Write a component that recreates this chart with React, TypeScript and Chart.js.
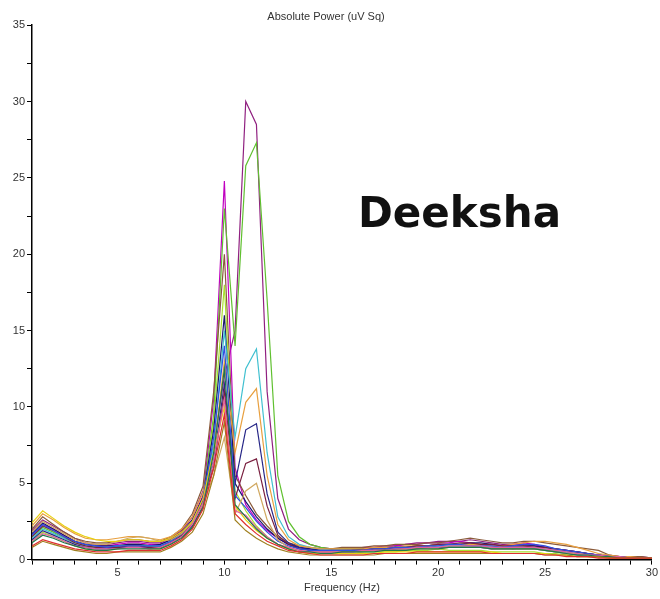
import React, { useEffect, useRef } from "react";
import { Chart, registerables } from "chart.js";

Chart.register(...registerables);

// Frequency bins (Hz), 0.5 Hz resolution from 1 to 30
const FREQS: number[] = [
  1.0, 1.5, 2.0, 2.5, 3.0, 3.5, 4.0, 4.5, 5.0, 5.5,
  6.0, 6.5, 7.0, 7.5, 8.0, 8.5, 9.0, 9.5, 10.0, 10.5,
  11.0, 11.5, 12.0, 12.5, 13.0, 13.5, 14.0, 14.5, 15.0, 15.5,
  16.0, 16.5, 17.0, 17.5, 18.0, 18.5, 19.0, 19.5, 20.0, 20.5,
  21.0, 21.5, 22.0, 22.5, 23.0, 23.5, 24.0, 24.5, 25.0, 25.5,
  26.0, 26.5, 27.0, 27.5, 28.0, 28.5, 29.0, 29.5, 30.0,
];

const magenta = [
  1.6, 2.3, 2.0, 1.6, 1.2, 1.0, 0.9, 0.9, 1.0, 1.1,
  1.1, 1.0, 1.0, 1.3, 1.8, 2.6, 4.2, 10.5, 24.8, 6.0,
  3.6, 2.6, 1.9, 1.4, 1.0, 0.8, 0.7, 0.6, 0.6, 0.6,
  0.7, 0.7, 0.8, 0.8, 0.9, 1.0, 1.0, 1.1, 1.1, 1.1,
  1.2, 1.1, 1.0, 0.9, 0.9, 1.0, 1.1, 1.0, 0.8, 0.6,
  0.5, 0.4, 0.3, 0.3, 0.2, 0.2, 0.2, 0.1, 0.1,
];
const purpleBig = [
  1.9, 2.6, 2.2, 1.8, 1.4, 1.1, 1.0, 1.0, 1.1, 1.2,
  1.2, 1.1, 1.1, 1.4, 1.9, 2.8, 4.5, 7.5, 12.0, 15.0,
  30.0, 28.5, 11.0, 4.0, 2.0, 1.3, 1.0, 0.8, 0.7, 0.7,
  0.7, 0.8, 0.8, 0.9, 0.9, 1.0, 1.1, 1.1, 1.2, 1.2,
  1.2, 1.3, 1.2, 1.1, 1.0, 1.0, 1.0, 0.9, 0.8, 0.7,
  0.6, 0.5, 0.4, 0.3, 0.3, 0.2, 0.2, 0.2, 0.1,
];
const green = [
  1.5, 2.1, 1.8, 1.4, 1.1, 0.9, 0.8, 0.8, 0.9, 1.0,
  1.0, 0.9, 0.9, 1.2, 1.7, 2.5, 4.0, 9.5, 23.0, 14.0,
  25.8, 27.3, 17.0, 5.5, 2.5, 1.5, 1.0, 0.8, 0.7, 0.7,
  0.7, 0.7, 0.7, 0.8, 0.8, 0.8, 0.9, 0.9, 1.0, 0.9,
  0.9, 0.9, 0.8, 0.8, 0.8, 0.7, 0.8, 0.8, 0.7, 0.6,
  0.5, 0.4, 0.3, 0.3, 0.2, 0.2, 0.2, 0.1, 0.1,
];
const brown = [
  2.0, 2.8, 2.3, 1.8, 1.4, 1.2, 1.1, 1.1, 1.2, 1.3,
  1.3, 1.2, 1.2, 1.5, 2.0, 3.0, 4.8, 11.0, 20.0, 5.5,
  4.2, 3.0, 2.2, 1.5, 1.1, 0.9, 0.8, 0.7, 0.7, 0.8,
  0.8, 0.8, 0.9, 0.9, 1.0, 1.0, 1.0, 1.1, 1.1, 1.2,
  1.3, 1.4, 1.3, 1.2, 1.1, 1.1, 1.2, 1.2, 1.1, 1.0,
  0.9, 0.8, 0.7, 0.6, 0.3, 0.2, 0.2, 0.2, 0.1,
];
const lime = [
  1.2, 1.8, 1.5, 1.2, 0.9, 0.7, 0.6, 0.6, 0.7, 0.8,
  0.8, 0.7, 0.7, 1.0, 1.5, 2.2, 3.6, 9.0, 18.0, 4.5,
  3.2, 2.2, 1.5, 1.0, 0.7, 0.5, 0.4, 0.4, 0.4, 0.4,
  0.4, 0.5, 0.5, 0.5, 0.5, 0.6, 0.6, 0.6, 0.7, 0.6,
  0.6, 0.6, 0.6, 0.5, 0.5, 0.5, 0.5, 0.5, 0.4, 0.4,
  0.3, 0.3, 0.2, 0.2, 0.2, 0.1, 0.1, 0.1, 0.1,
];
const navyPeak = [
  1.7, 2.4, 2.0, 1.6, 1.2, 1.0, 0.9, 0.9, 0.9, 1.0,
  1.0, 0.9, 1.0, 1.3, 1.8, 2.6, 4.1, 8.5, 16.0, 5.0,
  3.8, 2.8, 2.0, 1.4, 1.0, 0.8, 0.7, 0.6, 0.6, 0.6,
  0.6, 0.7, 0.7, 0.7, 0.8, 0.8, 0.9, 0.9, 1.0, 1.0,
  1.0, 1.1, 1.1, 1.0, 0.9, 0.9, 0.9, 0.9, 0.8, 0.7,
  0.6, 0.5, 0.4, 0.3, 0.2, 0.2, 0.1, 0.1, 0.1,
];
const cyan = [
  1.4, 2.0, 1.7, 1.4, 1.1, 0.9, 0.8, 0.8, 0.9, 0.9,
  0.9, 0.9, 0.9, 1.2, 1.6, 2.4, 3.8, 7.5, 15.0, 8.0,
  12.5, 13.8, 7.0, 2.8, 1.5, 1.0, 0.8, 0.7, 0.6, 0.6,
  0.6, 0.6, 0.7, 0.7, 0.7, 0.8, 0.8, 0.8, 0.9, 0.9,
  0.9, 0.9, 0.9, 0.8, 0.8, 0.8, 0.8, 0.7, 0.7, 0.6,
  0.5, 0.4, 0.3, 0.3, 0.2, 0.2, 0.1, 0.1, 0.1,
];
const orange = [
  2.2, 3.0, 2.6, 2.1, 1.7, 1.4, 1.3, 1.3, 1.4, 1.5,
  1.5, 1.4, 1.3, 1.5, 2.0, 2.8, 4.4, 7.0, 13.0, 7.0,
  10.3, 11.2, 5.5, 2.3, 1.3, 0.9, 0.8, 0.7, 0.7, 0.7,
  0.7, 0.7, 0.8, 0.8, 0.8, 0.9, 0.9, 0.9, 1.0, 1.0,
  1.0, 1.0, 1.0, 0.9, 0.9, 1.0, 1.1, 1.2, 1.2, 1.1,
  1.0, 0.8, 0.6, 0.4, 0.3, 0.2, 0.2, 0.1, 0.1,
];
const navy = [
  1.3, 1.9, 1.6, 1.3, 1.0, 0.8, 0.7, 0.7, 0.8, 0.8,
  0.8, 0.8, 0.8, 1.1, 1.5, 2.2, 3.5, 6.5, 11.5, 5.0,
  8.5, 8.9, 4.3, 1.8, 1.1, 0.8, 0.6, 0.5, 0.5, 0.5,
  0.5, 0.6, 0.6, 0.6, 0.7, 0.7, 0.7, 0.8, 0.8, 0.8,
  0.8, 0.8, 0.8, 0.7, 0.7, 0.7, 0.7, 0.7, 0.6, 0.5,
  0.4, 0.3, 0.3, 0.2, 0.2, 0.1, 0.1, 0.1, 0.1,
];
const maroon = [
  1.5, 2.2, 1.9, 1.5, 1.1, 0.9, 0.8, 0.8, 0.8, 0.9,
  0.9, 0.8, 0.8, 1.1, 1.6, 2.4, 3.9, 6.0, 11.0, 4.0,
  6.3, 6.6, 3.5, 1.6, 1.0, 0.7, 0.6, 0.5, 0.5, 0.5,
  0.6, 0.6, 0.7, 0.7, 0.8, 0.8, 0.9, 0.9, 1.0, 1.0,
  1.1, 1.1, 1.0, 1.0, 0.9, 0.9, 0.9, 0.8, 0.8, 0.7,
  0.6, 0.5, 0.4, 0.3, 0.2, 0.2, 0.1, 0.1, 0.1,
];
const yellow = [
  2.4, 3.2, 2.7, 2.2, 1.8, 1.5, 1.3, 1.2, 1.2, 1.3,
  1.3, 1.2, 1.2, 1.4, 1.8, 2.5, 4.0, 7.0, 10.0, 3.5,
  2.6, 1.9, 1.4, 1.0, 0.7, 0.5, 0.4, 0.4, 0.4, 0.4,
  0.4, 0.4, 0.4, 0.5, 0.5, 0.5, 0.5, 0.5, 0.5, 0.5,
  0.5, 0.5, 0.5, 0.5, 0.4, 0.4, 0.4, 0.4, 0.4, 0.3,
  0.3, 0.2, 0.2, 0.2, 0.1, 0.1, 0.1, 0.1, 0.1,
];
const red = [
  0.9, 1.3, 1.1, 0.9, 0.7, 0.6, 0.5, 0.5, 0.5, 0.6,
  0.6, 0.6, 0.6, 0.9, 1.3, 2.0, 3.3, 6.0, 9.5, 3.0,
  2.3, 1.7, 1.2, 0.9, 0.6, 0.5, 0.4, 0.3, 0.3, 0.3,
  0.3, 0.3, 0.4, 0.4, 0.4, 0.4, 0.5, 0.5, 0.5, 0.5,
  0.5, 0.5, 0.5, 0.4, 0.4, 0.4, 0.4, 0.4, 0.3, 0.3,
  0.2, 0.2, 0.2, 0.1, 0.1, 0.1, 0.1, 0.1, 0.1,
];
const blue = [
  1.6, 2.3, 1.9, 1.5, 1.2, 1.0, 0.9, 0.8, 0.9, 0.9,
  0.9, 0.9, 0.9, 1.2, 1.7, 2.5, 4.0, 8.0, 14.0, 4.2,
  3.4, 2.5, 1.8, 1.2, 0.9, 0.7, 0.6, 0.6, 0.6, 0.6,
  0.6, 0.6, 0.7, 0.7, 0.8, 0.8, 0.8, 0.9, 0.9, 1.0,
  1.0, 0.9, 0.9, 0.9, 0.8, 0.9, 1.0, 1.0, 0.9, 0.7,
  0.6, 0.5, 0.4, 0.3, 0.2, 0.2, 0.1, 0.1, 0.1,
];
const darkGreen = [
  1.1, 1.6, 1.4, 1.1, 0.9, 0.7, 0.6, 0.6, 0.7, 0.7,
  0.7, 0.7, 0.7, 1.0, 1.4, 2.1, 3.4, 7.0, 12.5, 3.6,
  2.8, 2.0, 1.4, 1.0, 0.7, 0.5, 0.5, 0.4, 0.4, 0.5,
  0.5, 0.5, 0.5, 0.6, 0.6, 0.6, 0.7, 0.7, 0.7, 0.8,
  0.8, 0.8, 0.8, 0.7, 0.7, 0.7, 0.7, 0.7, 0.6, 0.5,
  0.4, 0.3, 0.3, 0.2, 0.2, 0.1, 0.1, 0.1, 0.1,
];
const olive = [
  0.8, 1.2, 1.0, 0.8, 0.6, 0.5, 0.4, 0.4, 0.5, 0.5,
  0.5, 0.5, 0.5, 0.8, 1.2, 1.8, 3.0, 5.5, 9.0, 2.6,
  1.9, 1.4, 1.0, 0.7, 0.5, 0.4, 0.3, 0.3, 0.3, 0.3,
  0.3, 0.3, 0.3, 0.4, 0.4, 0.4, 0.4, 0.4, 0.4, 0.4,
  0.4, 0.4, 0.4, 0.4, 0.4, 0.4, 0.4, 0.4, 0.3, 0.3,
  0.3, 0.2, 0.2, 0.2, 0.1, 0.1, 0.1, 0.1, 0.1,
];
const pink = [
  1.2, 1.7, 1.5, 1.2, 0.9, 0.8, 0.7, 0.7, 0.7, 0.8,
  0.8, 0.7, 0.8, 1.1, 1.5, 2.3, 3.7, 6.5, 10.5, 3.2,
  2.9, 2.1, 1.5, 1.0, 0.8, 0.6, 0.5, 0.5, 0.5, 0.5,
  0.5, 0.6, 0.6, 0.6, 0.7, 0.7, 0.8, 0.8, 0.8, 0.9,
  0.9, 0.9, 0.9, 0.8, 0.8, 0.8, 0.8, 0.8, 0.7, 0.6,
  0.5, 0.4, 0.3, 0.3, 0.2, 0.2, 0.1, 0.1, 0.1,
];
const tan = [
  1.8, 2.5, 2.1, 1.7, 1.3, 1.1, 1.0, 1.0, 1.2, 1.4,
  1.5, 1.4, 1.2, 1.3, 1.7, 2.4, 3.6, 5.5, 8.0, 3.0,
  4.5, 5.0, 2.6, 1.3, 0.8, 0.6, 0.5, 0.5, 0.5, 0.5,
  0.5, 0.5, 0.6, 0.6, 0.6, 0.7, 0.7, 0.7, 0.7, 0.8,
  0.8, 0.8, 0.8, 0.7, 0.7, 0.7, 0.7, 0.7, 0.6, 0.5,
  0.4, 0.4, 0.3, 0.2, 0.2, 0.1, 0.1, 0.1, 0.1,
];

const SERIES: { name: string; color: string; values: number[] }[] = [
  { name: "red", color: "#e03030", values: red },
  { name: "olive", color: "#a08020", values: olive },
  { name: "darkGreen", color: "#207848", values: darkGreen },
  { name: "pink", color: "#e060a0", values: pink },
  { name: "yellow", color: "#e8d010", values: yellow },
  { name: "tan", color: "#d0a860", values: tan },
  { name: "blue", color: "#3050e0", values: blue },
  { name: "maroon", color: "#7a2040", values: maroon },
  { name: "navy", color: "#282888", values: navy },
  { name: "orange", color: "#e8a040", values: orange },
  { name: "cyan", color: "#40c0d0", values: cyan },
  { name: "navyPeak", color: "#18186e", values: navyPeak },
  { name: "lime", color: "#a8e030", values: lime },
  { name: "brown", color: "#8a5a3a", values: brown },
  { name: "green", color: "#60c030", values: green },
  { name: "magenta", color: "#c000c0", values: magenta },
  { name: "purpleBig", color: "#902080", values: purpleBig },
];

const TITLE = "Absolute Power (uV Sq)";
const X_TITLE = "Frequency (Hz)";
const ANNOTATION = "Deeksha";
const ANNOTATION_AT = { x: 16.25, y: 21.8 };

const annotationPlugin = {
  id: "nameAnnotation",
  afterDatasetsDraw(chart: any) {
    const { ctx, scales } = chart;
    const px = scales.x.getPixelForValue(ANNOTATION_AT.x);
    const py = scales.y.getPixelForValue(ANNOTATION_AT.y);
    ctx.save();
    ctx.fillStyle = "#111111";
    ctx.font = "bold 42px 'DejaVu Sans'";
    ctx.textAlign = "left";
    ctx.textBaseline = "alphabetic";
    ctx.fillText(ANNOTATION, px, py);
    ctx.restore();
  },
};

export default function App() {
  const canvasRef = useRef<HTMLCanvasElement | null>(null);

  useEffect(() => {
    if (!canvasRef.current) return;
    const font = { family: "'Liberation Sans', Arial, sans-serif", size: 11, weight: "normal" as const };
    const chart = new Chart(canvasRef.current, {
      type: "line",
      data: {
        datasets: SERIES.map((s) => ({
          label: s.name,
          data: FREQS.map((f, i) => ({ x: f, y: s.values[i] })),
          borderColor: s.color,
          backgroundColor: s.color,
          borderWidth: 1.2,
          pointRadius: 0,
          tension: 0,
          fill: false,
        })),
      },
      options: {
        animation: false,
        responsive: true,
        maintainAspectRatio: false,
        layout: { padding: { left: 0, right: 8, top: 0, bottom: 4 } },
        plugins: {
          legend: { display: false },
          tooltip: { enabled: false },
          title: {
            display: true,
            text: TITLE,
            color: "#333",
            font,
            padding: { top: 10, bottom: 2 },
          },
        },
        scales: {
          x: {
            type: "linear",
            min: 1,
            max: 30,
            ticks: {
              stepSize: 1,
              autoSkip: false,
              maxRotation: 0,
              color: "#333",
              font,
              padding: 2,
              callback: (v: any) => (Number(v) % 5 === 0 ? String(v) : ""),
            },
            grid: { drawOnChartArea: false, color: "#000", tickLength: 5 },
            border: { color: "#000", width: 1.5 },
            title: { display: true, text: X_TITLE, color: "#333", font, padding: { top: 0, bottom: 0 } },
          },
          y: {
            type: "linear",
            min: 0,
            max: 35,
            afterFit: (scale: any) => {
              scale.width = 32;
            },
            ticks: {
              stepSize: 2.5,
              autoSkip: false,
              color: "#333",
              font,
              padding: 2,
              callback: (v: any) => (Number(v) % 5 === 0 ? String(v) : ""),
            },
            grid: { drawOnChartArea: false, color: "#000", tickLength: 5 },
            border: { color: "#000", width: 1.5 },
          },
        },
      },
      plugins: [annotationPlugin],
    } as any);
    return () => chart.destroy();
  }, []);

  return (
    <div style={{ position: "fixed", left: 0, top: 0, width: 660, height: 599, background: "#fff" }}>
      <canvas ref={canvasRef} />
    </div>
  );
}
